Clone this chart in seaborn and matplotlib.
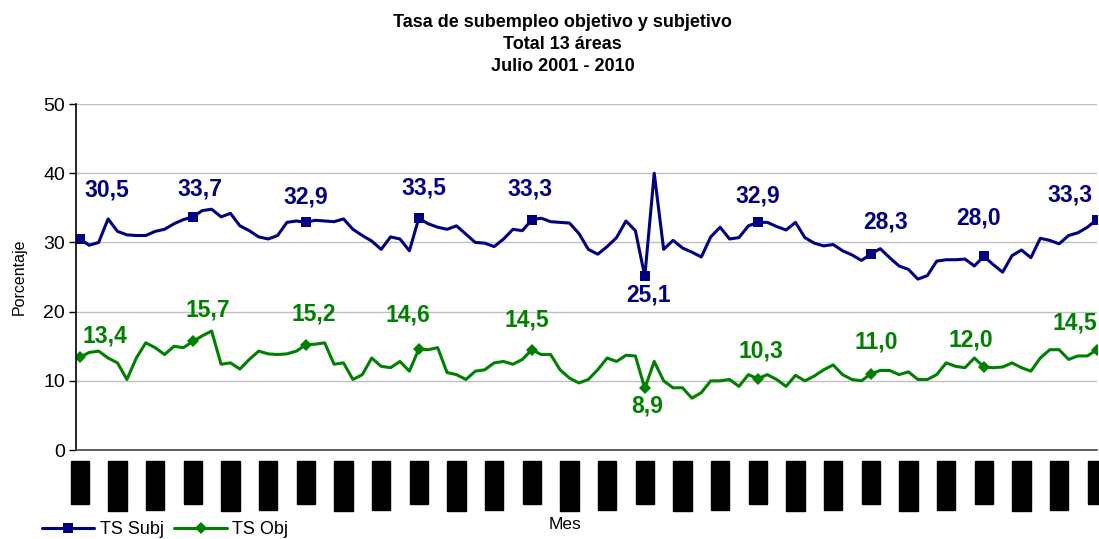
import matplotlib
matplotlib.use("Agg")
import matplotlib.pyplot as plt
import seaborn as sns
from matplotlib.lines import Line2D

# Tasa de subempleo, julio 2001 - julio 2010 (109 meses)
nombres_mes = ['Ene', 'Feb', 'Mar', 'Abr', 'May', 'Jun',
               'Jul', 'Ago', 'Sep', 'Oct', 'Nov', 'Dic']

ts_subj = [30.5, 29.6, 30.0, 33.4, 31.6, 31.1, 31.0, 31.0, 31.6, 31.9, 32.7, 33.3,
           33.7, 34.6, 34.8, 33.7, 34.2, 32.4, 31.7, 30.8, 30.5, 31.0, 32.9, 33.1,
           32.9, 33.2, 33.1, 33.0, 33.4, 31.9, 31.0, 30.2, 29.0, 30.8, 30.5, 28.8,
           33.5, 32.7, 32.2, 31.9, 32.4, 31.2, 30.0, 29.9, 29.4, 30.5, 31.9, 31.7,
           33.3, 33.5, 33.0, 32.9, 32.8, 31.3, 29.0, 28.3, 29.4, 30.7, 33.1, 31.7,
           25.1, 40.0, 29.0, 30.3, 29.2, 28.6, 27.9, 30.8, 32.2, 30.5, 30.7, 32.4,
           32.9, 32.9, 32.3, 31.8, 32.9, 30.7, 29.9, 29.5, 29.7, 28.8, 28.2, 27.4,
           28.3, 29.1, 27.8, 26.6, 26.1, 24.7, 25.2, 27.3, 27.5, 27.5, 27.6, 26.6,
           28.0, 26.8, 25.7, 28.1, 28.9, 27.8, 30.6, 30.3, 29.8, 31.0, 31.4, 32.2,
           33.3]

ts_obj = [13.4, 14.1, 14.3, 13.3, 12.6, 10.2, 13.3, 15.5, 14.8, 13.8, 15.0, 14.8,
          15.7, 16.5, 17.2, 12.4, 12.6, 11.7, 13.1, 14.3, 13.9, 13.8, 13.9, 14.3,
          15.2, 15.3, 15.5, 12.4, 12.6, 10.2, 10.9, 13.3, 12.1, 11.9, 12.8, 11.4,
          14.6, 14.5, 14.8, 11.2, 10.9, 10.2, 11.4, 11.6, 12.6, 12.8, 12.4, 13.1,
          14.5, 13.8, 13.8, 11.6, 10.4, 9.7, 10.2, 11.6, 13.3, 12.8, 13.7, 13.6,
          8.9, 12.8, 10.0, 9.0, 9.0, 7.5, 8.3, 10.0, 10.0, 10.2, 9.2, 10.9,
          10.3, 10.9, 10.2, 9.2, 10.8, 10.0, 10.7, 11.6, 12.3, 10.9, 10.2, 10.0,
          11.0, 11.5, 11.5, 10.9, 11.3, 10.2, 10.2, 10.9, 12.6, 12.1, 11.9, 13.3,
          12.0, 11.9, 12.0, 12.6, 11.9, 11.4, 13.3, 14.5, 14.5, 13.1, 13.6, 13.6,
          14.5]

meses = [f"{nombres_mes[(6 + i) % 12]}-{(2001 + (6 + i) // 12) % 100:02d}"
         for i in range(len(ts_subj))]
julios = list(range(0, len(ts_subj), 12))

# desplazamiento de las etiquetas (pixeles) respecto al marcador
offs_subj = [(27, 49), (7, 28), (0, 25), (5, 30), (-2, 31),
             (4, -19), (0, 26), (15, 32), (-5, 38), (-27, 25)]
offs_obj = [(25, 21), (15, 31), (8, 31), (-11, 34), (-5, 30),
            (2, -18), (3, 28), (5, 32), (-13, 27), (-22, 27)]

AZUL = '#000080'
VERDE = '#008000'

sns.set_style("white")
plt.rcParams['font.family'] = ['Liberation Sans', 'DejaVu Sans']
plt.rcParams['text.color'] = 'black'
plt.rcParams['axes.labelcolor'] = 'black'
plt.rcParams['xtick.color'] = 'black'
plt.rcParams['ytick.color'] = 'black'

fig = plt.figure(figsize=(10.99, 5.39), dpi=100)
ax = fig.add_axes([0.0692, 0.165, 0.9288, 0.642])

x = list(range(len(ts_subj)))
sns.lineplot(x=x, y=ts_subj, ax=ax, color=AZUL, linewidth=2.2,
             marker='s', markersize=7, markevery=julios, markeredgewidth=0)
sns.lineplot(x=x, y=ts_obj, ax=ax, color=VERDE, linewidth=2.2,
             marker='D', markersize=6.5, markevery=julios, markeredgewidth=0)

for serie, offs, col in [(ts_subj, offs_subj, AZUL), (ts_obj, offs_obj, VERDE)]:
    for k, i in enumerate(julios):
        v = serie[i]
        ax.annotate(f"{v:.1f}".replace('.', ','), (i, v), xytext=offs[k],
                    textcoords='offset pixels', ha='center', va='center',
                    fontsize=16.5, fontweight='bold', color=col,
                    annotation_clip=False)

ax.set_ylim(0, 50)
ax.set_yticks(range(0, 51, 10))
ax.set_xlim(-0.4, len(ts_subj) - 1)
ticks = list(range(0, len(ts_subj), 4))
ax.set_xticks(ticks)
ax.set_xticklabels([meses[i] for i in ticks], rotation=90, va='top', fontsize=9.5,
                   color='black',
                   bbox=dict(boxstyle='square,pad=0.25', facecolor='black',
                             edgecolor='black'))
ax.tick_params(axis='x', length=4, width=1, color='#555555', pad=6.5, direction='out')
ax.tick_params(axis='y', length=5, width=1, color='black', labelsize=14, pad=3,
               direction='out', left=True)

ax.grid(axis='y', color='#c0c0c0', linewidth=1)
ax.grid(axis='x', visible=False)
for s in ['top', 'right']:
    ax.spines[s].set_visible(False)
ax.spines['left'].set_color('black')
ax.spines['bottom'].set_color('#444444')
ax.spines['left'].set_linewidth(1.2)
ax.spines['bottom'].set_linewidth(1.2)

ax.set_ylabel('Porcentaje', fontsize=11.5, labelpad=12)
ax.set_xlabel('Mes', fontsize=12.5)
ax.xaxis.set_label_coords((565 - 76) / 1021, -0.194)

fig.text(0.512, 0.974, 'Tasa de subempleo objetivo y subjetivo\nTotal 13 áreas\nJulio 2001 - 2010',
         ha='center', va='top', fontsize=13, fontweight='bold', linespacing=1.4)

handles = [Line2D([], [], color=AZUL, linewidth=2.2, marker='s', markersize=7,
                  markeredgewidth=0),
           Line2D([], [], color=VERDE, linewidth=2.2, marker='D', markersize=6.5,
                  markeredgewidth=0)]
fig.legend(handles, ['TS Subj', 'TS Obj'], loc='center left',
           bbox_to_anchor=(0.038, 0.017), ncol=2, frameon=False, fontsize=13,
           handlelength=2.9, handletextpad=0.3, columnspacing=0.6, borderpad=0,
           borderaxespad=0)

fig.savefig('out.png', dpi=100)
